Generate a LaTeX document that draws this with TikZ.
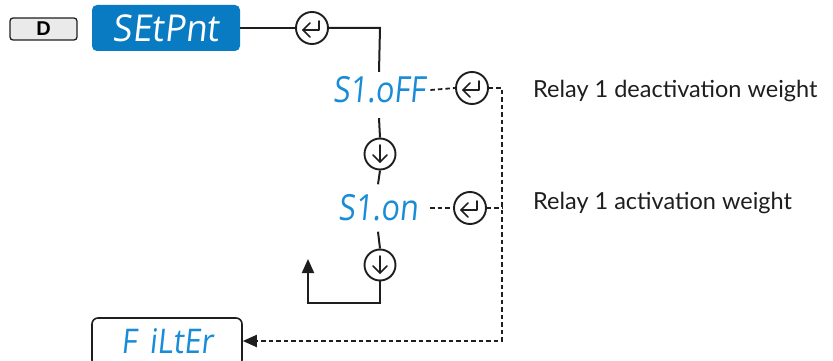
\documentclass[tikz,border=0pt]{standalone}
\usepackage{fontspec}
\setmainfont{Lato}
\newfontfamily\segfont[FakeSlant=0.12]{Open Sans}
\newfontfamily\btnfont{Liberation Sans}
\usetikzlibrary{arrows.meta}
\definecolor{boxblue}{RGB}{8,123,194}
\definecolor{segblue}{RGB}{24,140,214}
\definecolor{ink}{RGB}{30,30,30}
\definecolor{btngray}{RGB}{234,234,234}
\tikzset{
  solidline/.style={draw=ink, line width=2pt},
  dashline/.style={draw=ink, line width=1.8pt, dash pattern=on 4.5pt off 3pt},
  enterbtn/.style={circle, draw=ink, line width=1.9pt, minimum size=32pt, inner sep=0pt, fill=white,
    path picture={
      \draw[ink, line width=1.6pt, line cap=round, line join=round]
        ([xshift=7pt,yshift=7pt]path picture bounding box.center) --
        ([xshift=7pt,yshift=-2pt]path picture bounding box.center) --
        ([xshift=-9pt,yshift=-2pt]path picture bounding box.center);
      \draw[ink, line width=1.6pt, line cap=round, line join=round]
        ([xshift=-2pt,yshift=5pt]path picture bounding box.center) --
        ([xshift=-9pt,yshift=-2pt]path picture bounding box.center) --
        ([xshift=-2pt,yshift=-9pt]path picture bounding box.center);
    }},
  downbtn/.style={circle, draw=ink, line width=1.9pt, minimum size=31pt, inner sep=0pt, fill=white,
    path picture={
      \draw[ink, line width=1.6pt, line cap=round]
        ([yshift=9pt]path picture bounding box.center) --
        ([yshift=-8pt]path picture bounding box.center);
      \draw[ink, line width=1.6pt, line cap=round, line join=round]
        ([xshift=-7pt,yshift=-1pt]path picture bounding box.center) --
        ([yshift=-8pt]path picture bounding box.center) --
        ([xshift=7pt,yshift=-1pt]path picture bounding box.center);
    }},
  segtext/.style={text=segblue, font=\segfont\fontsize{36}{36}\selectfont, inner sep=0pt},
  label/.style={anchor=west, text=ink, font=\fontsize{23.5}{27}\selectfont, inner sep=0pt},
  arrowtip/.style={-{Triangle[length=14pt,width=12pt]}}
}
\begin{document}
\begin{tikzpicture}[x=1pt,y=-1pt]
\useasboundingbox (0,0) rectangle (833,361);
% D key
\node[draw=ink, line width=1.3pt, fill=btngray, rounded corners=3pt, minimum width=67pt, minimum height=22pt, inner sep=0pt,
      font=\btnfont\bfseries\fontsize{20}{20}\selectfont] (dkey) at (43.5,29) {D};
% SEtPnt box
\node[fill=boxblue, rounded corners=5pt, minimum width=148pt, minimum height=46pt, inner sep=0pt,
      text=white, font=\segfont\fontsize{37}{37}\selectfont] (setp) at (166,28) {\scalebox{0.95}[1]{SEtPnt}};
% buttons and displays
\node[enterbtn] (e1) at (312,28) {};
\node[segtext, minimum height=36pt] (soff) at (379,90) {\scalebox{0.85}[1]{S1.oFF}};
\node[enterbtn] (e2) at (472,88) {};
\node[downbtn] (d1) at (380,154) {};
\node[segtext, minimum height=47pt] (son) at (378,208) {\scalebox{0.85}[1]{S1.on}};
\node[enterbtn] (e3) at (470,208) {};
\node[downbtn] (d2) at (380,265) {};
% FiLtEr box
\node[draw=ink, line width=1.6pt, fill=white, rounded corners=6pt, minimum width=150pt, minimum height=48pt, inner sep=0pt,
      text=segblue, font=\segfont\fontsize{34}{34}\selectfont] (filt) at (167,342) {\raisebox{1pt}{\scalebox{0.9}[1]{F\hspace{14pt}iLtEr}}};
% labels
\node[label] (lab1) at (533,91) {Relay 1 deactivation weight};
\node[label] (lab2) at (533,203) {Relay 1 activation weight};
% coordinates
\coordinate (c1) at (380,28);
\coordinate (dr1) at (502,88);
\coordinate (dr2) at (502,208);
\coordinate (dr3) at (502,341);
\coordinate (lb) at (380,303);
\coordinate (lt) at (308,259);
% solid connectors
\draw[solidline] (setp.east) -- (e1.west);
\draw[solidline] (e1.east) -- (c1) -- (soff.north);
\draw[solidline] ([yshift=-10pt]soff.south) -- (d1.north);
\draw[solidline] (d1.south) -- (son.north);
\draw[solidline] (son.south) -- (d2.north);
\draw[solidline, arrowtip, line join=miter] (d2.south) -- (lb) -| (lt);
% dashed connectors
\draw[dashline] ([xshift=5pt]soff.east) -- (e2.west);
\draw[dashline] ([xshift=12pt]son.east) -- (e3.west);
\draw[dashline] (e3.east) -- (dr2);
\draw[dashline, arrowtip] (e2.east) -- (dr1) -- (dr3) -- (filt.east |- dr3);
\end{tikzpicture}
\end{document}
